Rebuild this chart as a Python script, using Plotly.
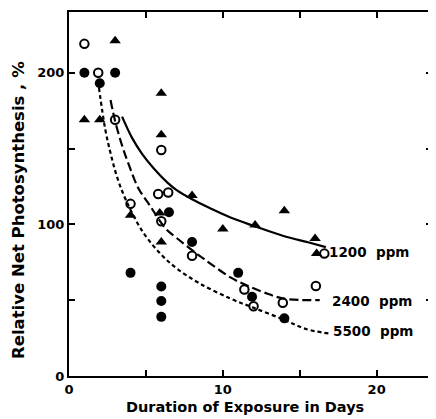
import plotly.graph_objects as go

# Observed data points (days, relative net photosynthesis %)
filled_x = [1, 3, 2, 6.5, 4, 6, 6, 6, 8, 11, 11.9, 14]
filled_y = [200, 200, 193, 108, 68, 59, 49.5, 39, 88.3, 68, 52.3, 38]

open_x = [1, 1.9, 3, 6, 5.8, 6.45, 4, 6, 8, 11.4, 12, 13.9, 16.05, 16.6]
open_y = [219, 200, 169, 149, 120, 121, 113.5, 102, 79.3, 57, 46, 48.3, 59.3, 80.7]

tri_x = [3, 1, 2, 6, 6, 8, 4, 5.9, 6, 10, 12.1, 14, 16, 16.1]
tri_y = [221, 169, 169, 186.5, 159, 119, 106, 107.5, 88.3, 97, 99.5, 109, 90.6, 80.7]

# Fitted curves
c1200_x = [3.45, 4.1, 4.75, 5.5, 6.4, 7.0, 8.0, 9.2, 10.5, 12.0, 13.9, 15.6, 16.7]
c1200_y = [171, 157, 146.5, 137, 127.5, 122.5, 116.5, 110.5, 104.5, 99, 92.5, 88, 85]

c2400_x = [2.7, 3.0, 3.45, 3.9, 4.5, 5.25, 6.3, 7.0, 8.0, 8.8, 10.5, 11.5, 12.7, 14.0, 16.3]
c2400_y = [182, 168, 152, 139, 124, 112.5, 97, 91, 83, 77, 65, 60, 55, 51, 50]

c5500_x = [1.95, 2.35, 2.7, 3.1, 3.7, 4.8, 6.0, 7.0, 8.5, 10.5, 12.0, 14.0, 15.4, 16.9]
c5500_y = [190, 163, 147, 132, 116, 95, 80, 71, 61, 51, 45, 37, 31, 28]

curve_labels = ["1200  ppm", "2400  ppm", "5500  ppm"]
label_x = [16.75, 17.0, 17.05]
label_y = [81.6, 49.3, 29.6]

x_ticks = [0, 5, 10, 15, 20]
x_ticktext = ["0", "", "10", "", "20"]
y_ticks = [0, 50, 100, 150, 200]
y_ticktext = ["0", "", "100", "", "200"]

FONT = "DejaVu Sans"

fig = go.Figure()

fig.add_trace(go.Scatter(x=c1200_x, y=c1200_y, mode="lines", line_shape="spline",
                         line=dict(color="black", width=2.2), hoverinfo="skip"))
fig.add_trace(go.Scatter(x=c2400_x, y=c2400_y, mode="lines", line_shape="spline",
                         line=dict(color="black", width=2.2, dash="9px,4px"), hoverinfo="skip"))
fig.add_trace(go.Scatter(x=c5500_x, y=c5500_y, mode="lines", line_shape="spline",
                         line=dict(color="black", width=2.2, dash="4px,3px"), hoverinfo="skip"))

fig.add_trace(go.Scatter(x=filled_x, y=filled_y, mode="markers",
                         marker=dict(symbol="circle", size=10, color="black")))
fig.add_trace(go.Scatter(x=open_x, y=open_y, mode="markers",
                         marker=dict(symbol="circle-open", size=8.5, color="black",
                                     line=dict(width=2, color="black"))))
fig.add_trace(go.Scatter(x=tri_x, y=tri_y, mode="markers",
                         marker=dict(symbol="triangle-up", size=10, color="black")))

for t, lx, ly in zip(curve_labels, label_x, label_y):
    fig.add_annotation(x=lx, y=ly, text="<b>" + t + "</b>", showarrow=False,
                       xanchor="left", yanchor="middle",
                       font=dict(family=FONT, size=13.5, color="black"))

fig.add_annotation(xref="paper", yref="paper", x=0.485, y=0, yshift=-31,
                   text="<b>Duration of Exposure in Days</b>", showarrow=False,
                   xanchor="center", yanchor="middle",
                   font=dict(family=FONT, size=14.5, color="black"))
fig.add_annotation(xref="paper", yref="paper", x=0, y=0.456, xshift=-51,
                   text="<b>Relative Net Photosynthesis , %</b>", showarrow=False,
                   textangle=-90, xanchor="center", yanchor="middle",
                   font=dict(family=FONT, size=16.5, color="black"))

axis_common = dict(showgrid=False, zeroline=False, showline=True, linecolor="black",
                   linewidth=2, mirror="ticks", ticks="inside", ticklen=6,
                   tickwidth=1.6, tickcolor="black",
                   tickfont=dict(family=FONT, size=13, color="black", weight="bold"))

fig.update_xaxes(range=[0, 23.6], tickvals=x_ticks, ticktext=x_ticktext,
                 ticklabelstandoff=0, **axis_common)
fig.update_yaxes(range=[0, 240], tickvals=y_ticks, ticktext=y_ticktext, **axis_common)

# page body has an 8px default margin, so the figure is sized to fit inside it
fig.update_layout(width=428, height=411, showlegend=False,
                  margin=dict(l=61, r=4, t=4, b=43, autoexpand=False),
                  plot_bgcolor="white", paper_bgcolor="white")

fig.write_html("out.html")
